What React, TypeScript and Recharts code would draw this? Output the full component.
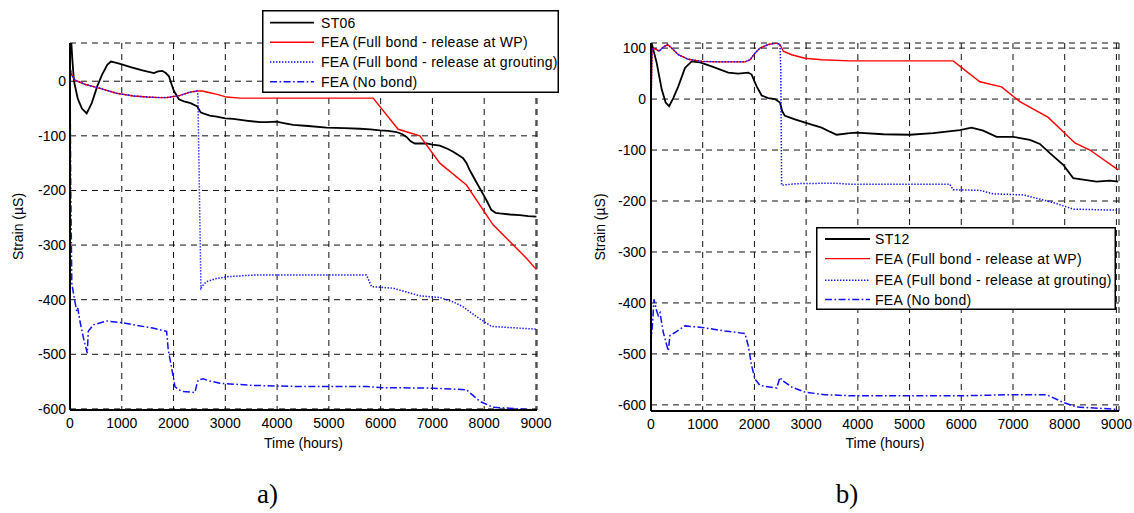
import React from 'react';
import { LineChart, Line, XAxis, YAxis, CartesianGrid, Legend } from 'recharts';

type Pt = [number, number];

// ---------- Chart a) data (hours, strain µS) ----------
const st06: Pt[] = [
  [0, 8], [5, 70], [25, 72], [45, 40], [77, 0], [150, -32], [230, -50], [322, -59], [420, -40], [527, -9],
  [620, 12], [720, 30], [790, 36], [880, 34], [1000, 31], [1171, 26], [1400, 20], [1622, 15], [1700, 18],
  [1782, 19], [1850, 15], [1911, 9], [1960, -5], [2008, -18], [2104, -33], [2200, -37], [2330, -40],
  [2458, -46], [2523, -57], [2573, -59], [2700, -63], [2832, -65], [3000, -68], [3153, -69], [3400, -72],
  [3668, -75], [3797, -75], [3990, -74], [4150, -77], [4311, -80], [4600, -82], [4955, -85], [5300, -86],
  [5598, -87], [5800, -88], [5985, -90], [6150, -91], [6306, -93], [6420, -97], [6499, -102], [6580, -110],
  [6660, -114], [6886, -114], [7000, -116], [7143, -118], [7300, -124], [7400, -129], [7500, -135],
  [7593, -141], [7660, -150], [7722, -163], [7820, -180], [7915, -196], [8044, -218], [8140, -236],
  [8220, -241], [8301, -242], [8500, -244], [8687, -245], [8850, -247], [9009, -248],
];
const feaWpA: Pt[] = [
  [0, 25], [30, 12], [96, 2], [300, -6], [579, -13], [901, -22], [1223, -27], [1500, -29], [1737, -30],
  [1866, -30], [2000, -28], [2124, -26], [2317, -20], [2450, -18], [2554, -18], [2700, -21], [2844, -24],
  [3025, -29], [3282, -31], [3500, -31], [5855, -31], [6338, -88], [6757, -100], [7143, -150], [7658, -190],
  [8172, -263], [8816, -324], [9009, -345],
];
const feaGroutA: Pt[] = [
  [0, 25], [30, 12], [96, 2], [300, -6], [579, -13], [901, -22], [1223, -27], [1500, -29], [1737, -30],
  [1866, -30], [2000, -28], [2124, -26], [2317, -20], [2450, -18], [2470, -25], [2529, -379], [2580, -372],
  [2638, -367], [2800, -362], [3025, -358], [3539, -355], [5727, -355], [5824, -376], [6242, -379],
  [6500, -386], [6757, -393], [7143, -396], [7400, -404], [7593, -413], [7851, -431], [8140, -449],
  [8494, -451], [9009, -454],
];
const feaNoBondA: Pt[] = [
  [0, 22], [15, -200], [35, -370], [77, -394], [129, -421], [150, -415], [193, -440], [260, -470],
  [334, -498], [353, -458], [450, -446], [708, -439], [1000, -442], [1223, -446], [1600, -452], [1866, -458],
  [1898, -492], [1963, -525], [2027, -559], [2100, -565], [2188, -568], [2413, -570], [2450, -555],
  [2477, -547], [2573, -545], [2700, -549], [2896, -553], [3539, -557], [4440, -559], [5727, -559],
  [5985, -561], [7013, -562], [7658, -565], [7915, -586], [8172, -597], [8687, -600], [9009, -602],
];

// ---------- Chart b) data ----------
const st12: Pt[] = [
  [0, 60], [8, 110], [25, 105], [110, 71], [207, 19], [284, -7], [350, -14], [431, 2], [528, 25], [657, 61],
  [786, 74], [947, 72], [1173, 64], [1494, 52], [1687, 50], [1881, 52], [1946, 48], [2043, 25], [2140, 7],
  [2268, 2], [2397, 0], [2494, -7], [2538, -24], [2590, -33], [2783, -40], [3106, -50], [3300, -56],
  [3459, -64], [3589, -70], [3846, -67], [3975, -66], [4490, -69], [5006, -70], [5457, -67], [5972, -61],
  [6198, -56], [6424, -62], [6682, -74], [7004, -74], [7327, -80], [7520, -88], [7713, -106], [7971, -129],
  [8164, -155], [8357, -158], [8615, -162], [8873, -160], [9034, -162],
];
const feaWpB: Pt[] = [
  [0, -20], [20, 98], [80, 99], [155, 94], [238, 102], [322, 107], [400, 100], [528, 87], [721, 78],
  [980, 74], [1301, 73], [1817, 73], [1914, 77], [2010, 90], [2107, 100], [2268, 107], [2430, 110],
  [2494, 107], [2558, 94], [2719, 87], [2977, 80], [3299, 77], [3846, 75], [5843, 75], [6359, 34],
  [6778, 24], [7133, -5], [7681, -36], [7971, -64], [8197, -86], [8487, -100], [9034, -139],
];
const feaGroutB: Pt[] = [
  [0, -20], [20, 98], [80, 99], [155, 94], [238, 102], [322, 107], [400, 100], [528, 87], [721, 78],
  [980, 74], [1301, 73], [1817, 73], [1914, 77], [2010, 90], [2107, 100], [2268, 107], [2430, 110],
  [2494, 107], [2510, 60], [2526, -169], [2816, -166], [3524, -165], [3846, -167], [5779, -167],
  [5843, -178], [6359, -179], [6617, -186], [7197, -188], [7584, -198], [7842, -205], [8164, -216],
  [9034, -218],
];
const feaNoBondB: Pt[] = [
  [0, 100], [5, -470], [30, -440], [58, -393], [110, -416], [141, -425], [174, -419], [238, -458],
  [334, -494], [367, -464], [464, -458], [657, -445], [980, -448], [1430, -455], [1817, -460], [1881, -484],
  [1946, -523], [2010, -549], [2107, -562], [2430, -567], [2494, -546], [2538, -552], [2719, -565],
  [2977, -575], [3363, -580], [3846, -582], [6102, -582], [6939, -580], [7648, -580], [7971, -595],
  [8229, -604], [9034, -609],
];

const xTicks = [0, 1000, 2000, 3000, 4000, 5000, 6000, 7000, 8000, 9000];
const yTicksA = [-600, -500, -400, -300, -200, -100, 0];
const yTicksB = [-600, -500, -400, -300, -200, -100, 0, 100];

const labelsA = ['ST06', 'FEA (Full bond - release at WP)', 'FEA (Full bond - release at grouting)', 'FEA (No bond)'];
const labelsB = ['ST12', 'FEA (Full bond - release at WP)', 'FEA (Full bond - release at grouting)', 'FEA (No bond)'];

const FONT = '"Liberation Sans", Arial, sans-serif';
const SERIF = '"Liberation Serif", "Times New Roman", serif';
const BLUE = '#1010ff';
const DOTTED = '1.4 1.6';
const DASHDOT = '7 2.5 1.6 2.5';

const styles = [
  { color: '#000', width: 1.8, dash: undefined as string | undefined },
  { color: '#ff0000', width: 1.4, dash: undefined as string | undefined },
  { color: BLUE, width: 1.5, dash: DOTTED },
  { color: BLUE, width: 1.5, dash: DASHDOT },
];

const toRows = (pts: Pt[]) => pts.map(([t, s]) => ({ t, s }));

function LegendBox({ labels, width, height, rowY, sx1, sx2, tx }: any) {
  return (
    <svg width={width} height={height} style={{ display: 'block' }}>
      <rect x={0.75} y={0.75} width={width - 1.5} height={height - 1.5} fill="#fff" stroke="#000" strokeWidth={1.5} />
      {labels.map((lab: string, i: number) => {
        const y = rowY[i];
        const st = styles[i];
        return (
          <g key={i}>
            <line x1={sx1} x2={sx2} y1={y} y2={y} stroke={st.color} strokeWidth={st.width} strokeDasharray={st.dash} />
            <text x={tx} y={y + 5} fontSize={14} letterSpacing={0.3} fontFamily={FONT} fill="#000">{lab}</text>
          </g>
        );
      })}
    </svg>
  );
}

function Panel(props: any) {
  const { series, labels, yDomain, xDomain, yTicks, width, height, margin, yAxisWidth, xAxisHeight,
    legendPos, legendRows, legendSample, yLabelOffset, tickGap } = props;
  const tickStyle = { fontSize: 14, fontFamily: FONT, fill: '#000' };
  return (
    <LineChart width={width} height={height} margin={margin}>
      <CartesianGrid stroke="#111" strokeDasharray="6 5" strokeWidth={1} />
      <XAxis
        type="number" dataKey="t" domain={xDomain} allowDataOverflow ticks={xTicks} interval={0}
        height={xAxisHeight} tickLine={false} tickSize={0} tickMargin={8}
        axisLine={{ stroke: '#000', strokeWidth: 2 }} tick={tickStyle}
        label={{ value: 'Time (hours)', position: 'insideBottom', offset: 22, style: { fontSize: 14, fontFamily: FONT, fill: '#000' } }}
      />
      <XAxis xAxisId="top" orientation="top" type="number" domain={xDomain} allowDataOverflow height={0}
        tick={false} tickLine={false} axisLine={{ stroke: '#000', strokeWidth: 1.5 }} />
      <YAxis
        type="number" dataKey="s" domain={yDomain} allowDataOverflow ticks={yTicks} interval={0} width={yAxisWidth}
        tickLine={false} tickSize={0} tickMargin={tickGap}
        axisLine={{ stroke: '#000', strokeWidth: 2 }} tick={tickStyle}
        label={{ value: 'Strain (µS)', angle: -90, position: 'insideLeft', offset: yLabelOffset, style: { textAnchor: 'middle', fontSize: 14, fontFamily: FONT, fill: '#000' } }}
      />
      <YAxis yAxisId="right" orientation="right" type="number" domain={yDomain} allowDataOverflow width={0}
        tick={false} tickLine={false} axisLine={{ stroke: '#000', strokeWidth: 1.5 }} />
      {series.map((pts: Pt[], i: number) => (
        <Line key={i} data={toRows(pts)} dataKey="s" name={labels[i]} type="linear" dot={false}
          stroke={styles[i].color} strokeWidth={styles[i].width} strokeDasharray={styles[i].dash}
          isAnimationActive={false} />
      ))}
      <Legend
        layout="vertical" align="center" verticalAlign="middle"
        wrapperStyle={{ left: legendPos.left, top: legendPos.top, width: legendPos.width, height: legendPos.height }}
        content={() => (
          <LegendBox labels={labels} width={legendPos.width} height={legendPos.height}
            rowY={legendRows} sx1={legendSample[0]} sx2={legendSample[1]} tx={legendSample[2]} />
        )}
      />
    </LineChart>
  );
}

export default function App() {
  return (
    <div style={{ position: 'absolute', left: 0, top: 0, width: 1134, height: 513, background: '#fff' }}>
      <div style={{ position: 'absolute', left: 0, top: 0 }}>
        <Panel
          series={[st06, feaWpA, feaGroutA, feaNoBondA]} labels={labelsA}
          xDomain={[0, 9020]} yDomain={[-602, 70]} yTicks={yTicksA}
          width={560} height={470} margin={{ top: 43, right: 23, left: 0, bottom: 0 }}
          yAxisWidth={70} xAxisHeight={60} yLabelOffset={18} tickGap={4}
          legendPos={{ left: 262, top: 10, width: 297, height: 83 }}
          legendRows={[12.7, 32.3, 52.1, 71.7]} legendSample={[8, 52, 59]}
        />
      </div>
      <div style={{ position: 'absolute', left: 580, top: 0 }}>
        <Panel
          series={[st12, feaWpB, feaGroutB, feaNoBondB]} labels={labelsB}
          xDomain={[0, 9050]} yDomain={[-612, 110]} yTicks={yTicksB}
          width={554} height={470} margin={{ top: 43, right: 15, left: 0, bottom: 0 }}
          yAxisWidth={71} xAxisHeight={59} yLabelOffset={20} tickGap={5}
          legendPos={{ left: 236, top: 227, width: 300, height: 83 }}
          legendRows={[12, 31.6, 53.3, 72.6]} legendSample={[9, 54, 59]}
        />
      </div>
      <svg width={1134} height={513} style={{ position: 'absolute', left: 0, top: 0, pointerEvents: 'none' }}>
        <text x={267.5} y={503} textAnchor="middle" fontSize={27} fontFamily={SERIF} fill="#000">a)</text>
        <text x={847} y={503} textAnchor="middle" fontSize={27} fontFamily={SERIF} fill="#000">b)</text>
      </svg>
    </div>
  );
}
